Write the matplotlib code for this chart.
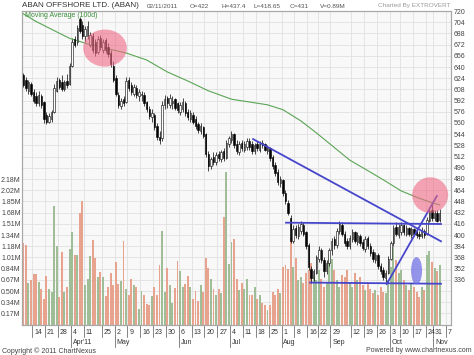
import numpy as np
import pandas as pd
import matplotlib
matplotlib.use("Agg")
import matplotlib.pyplot as plt
from matplotlib.patches import Ellipse
from matplotlib.transforms import blended_transform_factory

plt.rcParams["font.family"] = ["Liberation Sans", "DejaVu Sans"]

## DATA (one value per trading day, 08/03/2011 .. 02/11/2011)

opens = [628, 622, 606, 616, 604, 598, 588, 598, 590, 572,
         562, 566, 576, 606, 622, 618, 608, 620, 616, 642,
         680, 676, 708, 700, 684, 684, 672, 684, 676, 662,
         682, 664, 678, 668, 660, 642, 624, 600, 584, 594,
         590, 622, 614, 602, 610, 598, 600, 600, 590, 580,
         568, 572, 556, 540, 538, 586, 596, 586, 588, 594,
         588, 576, 580, 588, 576, 566, 572, 566, 558, 548,
         554, 544, 516, 498, 512, 504, 516, 508, 520, 510,
         530, 536, 544, 530, 518, 532, 522, 526, 534, 530,
         520, 530, 522, 532, 530, 520, 524, 512, 500, 490,
         474, 478, 460, 446, 424, 392, 410, 398, 406, 414,
         404, 386, 352, 338, 346, 366, 378, 364, 348, 360,
         378, 394, 386, 406, 414, 402, 392, 384, 394, 404,
         390, 398, 390, 380, 396, 384, 376, 364, 372, 356,
         350, 338, 346, 366, 388, 412, 400, 404, 414, 402,
         410, 400, 408, 404, 402, 398, 406, 402, 420, 436,
         424, 432, 422]
highs = [632, 626, 622, 619, 608, 604, 606, 602, 592, 576,
         574, 578, 615, 626, 624, 628, 622, 630, 646, 682,
         684, 700, 712, 705, 698, 706, 690, 688, 680, 684,
         686, 680, 682, 674, 664, 648, 628, 604, 596, 598,
         626, 626, 618, 616, 614, 608, 606, 604, 592, 584,
         580, 574, 560, 548, 592, 600, 598, 602, 598, 596,
         590, 590, 596, 592, 580, 578, 576, 570, 562, 560,
         556, 546, 520, 512, 518, 518, 520, 522, 524, 536,
         542, 548, 546, 536, 534, 536, 534, 538, 538, 534,
         532, 534, 534, 536, 532, 528, 526, 514, 504, 494,
         484, 480, 464, 450, 428, 414, 414, 416, 420, 418,
         406, 388, 356, 352, 372, 384, 382, 368, 364, 382,
         396, 398, 410, 420, 418, 406, 396, 400, 408, 406,
         404, 402, 394, 398, 398, 388, 380, 376, 374, 360,
         354, 350, 370, 392, 414, 418, 416, 418, 416, 414,
         412, 412, 410, 408, 406, 412, 408, 426, 440, 446,
         436, 436, 437.4]
lows = [612, 606, 602, 598, 588, 584, 584, 582, 560, 558,
        560, 562, 574, 604, 608, 605, 606, 610, 614, 640,
        668, 672, 688, 680, 676, 680, 668, 660, 656, 658,
        664, 660, 660, 654, 640, 618, 598, 582, 580, 584,
        588, 606, 600, 598, 596, 592, 592, 584, 576, 566,
        562, 550, 536, 530, 534, 580, 582, 582, 580, 578,
        574, 572, 576, 570, 564, 562, 558, 552, 546, 544,
        538, 512, 492, 494, 500, 500, 506, 504, 506, 508,
        526, 532, 524, 516, 514, 520, 518, 522, 522, 516,
        516, 520, 518, 524, 520, 516, 506, 494, 484, 472,
        468, 456, 444, 428, 388, 388, 396, 394, 402, 398,
        380, 350, 331, 334, 344, 362, 360, 340, 344, 356,
        372, 380, 382, 402, 398, 384, 380, 380, 390, 388,
        386, 384, 378, 376, 380, 370, 362, 360, 352, 344,
        336, 330, 344, 364, 384, 398, 396, 400, 400, 398,
        398, 396, 398, 396, 394, 396, 396, 400, 418, 420,
        420, 418, 418.65]
closes = [615, 610, 618, 601, 592, 588, 600, 585, 566, 562,
          570, 575, 610, 620, 612, 609, 618, 614, 642, 676,
          672, 696, 692, 684, 694, 698, 686, 664, 660, 680,
          668, 676, 664, 658, 645, 622, 602, 586, 592, 588,
          620, 610, 604, 612, 600, 604, 602, 588, 580, 570,
          574, 554, 540, 536, 586, 594, 588, 596, 592, 582,
          578, 586, 590, 574, 568, 574, 562, 556, 550, 556,
          542, 516, 498, 508, 504, 514, 510, 518, 510, 532,
          538, 544, 528, 520, 530, 524, 530, 534, 526, 520,
          528, 524, 530, 528, 522, 526, 510, 498, 488, 476,
          480, 460, 448, 432, 392, 408, 400, 412, 416, 402,
          384, 354, 338, 348, 368, 378, 364, 348, 360, 378,
          392, 386, 406, 416, 402, 388, 384, 396, 404, 392,
          400, 388, 382, 394, 384, 374, 366, 372, 356, 348,
          340, 346, 366, 388, 410, 402, 412, 414, 404, 410,
          402, 408, 402, 400, 398, 406, 400, 422, 434, 424,
          432, 420, 431]
volumes = [1.23, 1.19, 0.62, 0.67, 0.76, 0.76, 0.64, 0.54, 0.38, 0.73,
           0.53, 0.49, 1.78, 1.18, 0.42, 1.09, 0.49, 0.57, 1.14, 1.39,
           1.04, 1.05, 1.68, 1.86, 0.60, 0.68, 1.03, 1.27, 1.00, 0.72,
           0.79, 0.72, 0.43, 0.57, 0.77, 0.60, 0.94, 0.61, 0.66, 1.25,
           0.54, 0.45, 0.68, 0.60, 0.56, 0.24, 0.50, 0.45, 0.31, 0.30,
           0.43, 0.56, 0.44, 0.89, 1.41, 0.49, 0.85, 0.59, 0.33, 0.55,
           0.96, 0.81, 0.56, 0.61, 0.73, 0.56, 0.38, 0.51, 0.36, 0.60,
           0.49, 1.00, 0.85, 0.69, 0.54, 0.45, 0.53, 0.47, 1.62, 2.29,
           0.91, 1.24, 1.29, 0.69, 0.52, 0.62, 0.54, 0.69, 0.44, 0.45,
           0.57, 0.39, 0.44, 0.32, 0.29, 0.22, 0.29, 0.49, 0.44, 0.54,
           0.47, 0.87, 0.89, 0.84, 1.30, 0.87, 1.00, 0.67, 0.72, 0.62,
           0.77, 0.82, 0.92, 0.72, 0.67, 0.82, 0.69, 0.57, 0.62, 1.04,
           0.99, 0.82, 0.67, 0.57, 0.74, 0.72, 0.82, 0.62, 0.57, 0.77,
           0.67, 0.72, 0.59, 0.52, 0.62, 0.54, 0.47, 0.52, 0.44, 0.57,
           0.49, 0.47, 0.67, 0.87, 1.17, 0.97, 0.77, 0.82, 0.67, 0.59,
           0.52, 0.62, 0.57, 0.49, 0.42, 0.57, 0.52, 1.04, 1.10, 0.94,
           0.85, 0.80, 0.89]

# 100 day moving average, read at a few trading days
ma_days = [0, 5, 12, 18, 25, 33, 40, 48, 56, 64, 72, 81, 88, 95, 101,
           108, 114, 121, 127, 134, 140, 147, 153, 159, 162]
ma_values = [716, 705, 692, 681, 673, 666, 660, 650, 633, 620, 606, 594, 590, 586, 579,
             563, 546, 525, 507, 492, 479, 463, 454, 446, 443]

holidays = ["2011-04-12", "2011-04-14", "2011-04-22", "2011-08-15", "2011-08-31",
            "2011-09-01", "2011-10-06", "2011-10-26", "2011-10-27"]

week_dates = ["2011-03-14", "2011-03-21", "2011-03-28", "2011-04-04", "2011-04-11", "2011-04-25",
              "2011-05-02", "2011-05-09", "2011-05-16", "2011-05-23", "2011-05-30", "2011-06-06",
              "2011-06-13", "2011-06-20", "2011-06-27", "2011-07-04", "2011-07-11", "2011-07-18",
              "2011-07-25", "2011-08-01", "2011-08-08", "2011-08-16", "2011-08-22", "2011-08-29",
              "2011-09-12", "2011-09-19", "2011-09-26", "2011-10-03", "2011-10-10", "2011-10-17",
              "2011-10-24", "2011-10-31", "2011-11-07"]
week_labels = ["14", "21", "28", "4", "11", "25", "2", "9", "16", "23", "30", "6", "13", "20",
               "27", "4", "11", "18", "25", "1", "8", "16", "22", "29", "12", "19", "26", "3",
               "10", "17", "24", "31", "7"]
month_dates = ["2011-04-04", "2011-05-02", "2011-06-06", "2011-07-04", "2011-08-01",
               "2011-08-29", "2011-10-03", "2011-10-31"]
month_labels = ["Apr'11", "May", "Jun", "Jul", "Aug", "Sep", "Oct", "Nov"]

price_ticks = list(range(336, 721, 16))
vol_labels = ["0.17M", "0.34M", "0.50M", "0.67M", "0.84M", "1.01M", "1.18M",
              "1.34M", "1.51M", "1.68M", "1.85M", "2.02M", "2.18M"]
vol_step = 0.168

# drawn annotations (trading-day index, price)
trend_lines = [((89.4, 537), (162.5, 391)),
               ((102.2, 417.6), (162.5, 415.7)),
               ((111.6, 332), (162.5, 330.4)),
               ((141.4, 330), (160.9, 455.7))]

## CALENDAR

cal = pd.bdate_range("2011-03-08", "2011-11-11")
cal = cal[~cal.isin(pd.to_datetime(holidays))]
week_pos = cal.get_indexer(pd.to_datetime(week_dates))
month_pos = cal.get_indexer(pd.to_datetime(month_dates))

opens = np.array(opens, dtype=float)
closes = np.array(closes, dtype=float)
x = np.arange(len(closes))
up = closes >= opens

## FIGURE

W, H = 474, 355
fig = plt.figure(figsize=(W / 100, H / 100), dpi=100)
left, right, top, bottom = 22, 451, 11, 324.6
ax_v = fig.add_axes([left / W, 1 - bottom / H, (right - left) / W, (bottom - top) / H])
ax_p = ax_v.twinx()

ax_v.set_facecolor("#f8f8f8")
ax_v.set_xlim(-0.5, 166.4)
ax_v.set_ylim(0, 28 * vol_step)
for k in range(1, 28):
    ax_v.axhline(k * vol_step, color="#e1e1e1", lw=0.6, zorder=0)
for p in week_pos:
    ax_v.axvline(p - 0.5, color="#e1e1e1", lw=0.6, zorder=0)

ax_v.bar(x, volumes, width=0.75, color=np.where(up, "#9fbe98", "#e8a38f"), zorder=2)

ax_v.set_xticks([])
ax_v.set_yticks([vol_step * (k + 1) for k in range(len(vol_labels))])
ax_v.set_yticklabels(vol_labels)
ax_v.tick_params(axis="y", length=0, pad=1, labelsize=5, labelcolor="#444")

ax_p.set_ylim(272, 720)
ax_p.set_yticks(price_ticks)
ax_p.tick_params(axis="y", length=0, pad=2, labelsize=5, labelcolor="#444")

for ax in (ax_v, ax_p):
    for s in ax.spines.values():
        s.set_color("#a8a8a8")
        s.set_linewidth(0.8)

# candles
ax_p.vlines(x, lows, highs, color="black", lw=0.5, zorder=3)
ax_p.bar(x, np.abs(closes - opens), bottom=np.minimum(opens, closes), width=0.55,
         color=np.where(up, "white", "black"), edgecolor="black", linewidth=0.4, zorder=4)

ax_p.plot(ma_days, ma_values, color="#5aa555", lw=0.8, zorder=3)

for (x0, y0), (x1, y1) in trend_lines:
    ax_p.plot([x0, x1], [y0, y1], color="#4646cc", lw=1.3, zorder=5)

ax_p.add_patch(Ellipse((31.8, 667), 17, 53, facecolor="#ee6a84", alpha=0.6, lw=0, zorder=6))
ax_p.add_patch(Ellipse((158.3, 457), 14, 51, facecolor="#ee6a84", alpha=0.6, lw=0, zorder=6))
ax_p.add_patch(Ellipse((153, 349), 4.3, 39, facecolor="#6a6ae6", alpha=0.7, lw=0, zorder=6))

ax_p.text(0.5, 713, "Moving Average (100d)", color="#3a8f3a", fontsize=5, va="center", zorder=7)

# date axis
tr = blended_transform_factory(ax_v.transData, fig.transFigure)
fy = lambda py: 1 - py / H
for p, lab in zip(week_pos, week_labels):
    ax_v.plot([p - 0.5, p - 0.5], [fy(bottom), fy(337)], transform=tr, clip_on=False,
              color="#555", lw=0.5)
    ax_v.text(p + 0.2, fy(332), lab, transform=tr, fontsize=5, ha="left", va="center", color="#333")
for p, lab in zip(month_pos, month_labels):
    ax_v.plot([p - 0.5, p - 0.5], [fy(337), fy(347)], transform=tr, clip_on=False,
              color="#555", lw=0.5)
    ax_v.text(p + 0.2, fy(342), lab, transform=tr, fontsize=5, ha="left", va="center", color="#333")

# header
fig.text(22 / W, fy(5.5), "ABAN OFFSHORE LTD. (ABAN)", fontsize=5.8, color="#333", va="center")
header = [(147, "02/11/2011"), (190, "O=422"), (222, "H=437.4"), (253, "L=418.65"),
          (290, "C=431"), (320, "V=0.89M")]
for px, t in header:
    fig.text(px / W, fy(6), t, fontsize=4.6, color="#555", va="center")
fig.text(451 / W, fy(6), "Charted By EXTROVERT", fontsize=4.6, color="#999", va="center", ha="right")
fig.text(2 / W, fy(351), "Copyright \u00a9 2011 ChartNexus", fontsize=5, color="#444", va="center")
fig.text(472 / W, fy(351), "Powered by www.chartnexus.com", fontsize=5, color="#444",
         va="center", ha="right")

fig.savefig("out.png", dpi=100)
